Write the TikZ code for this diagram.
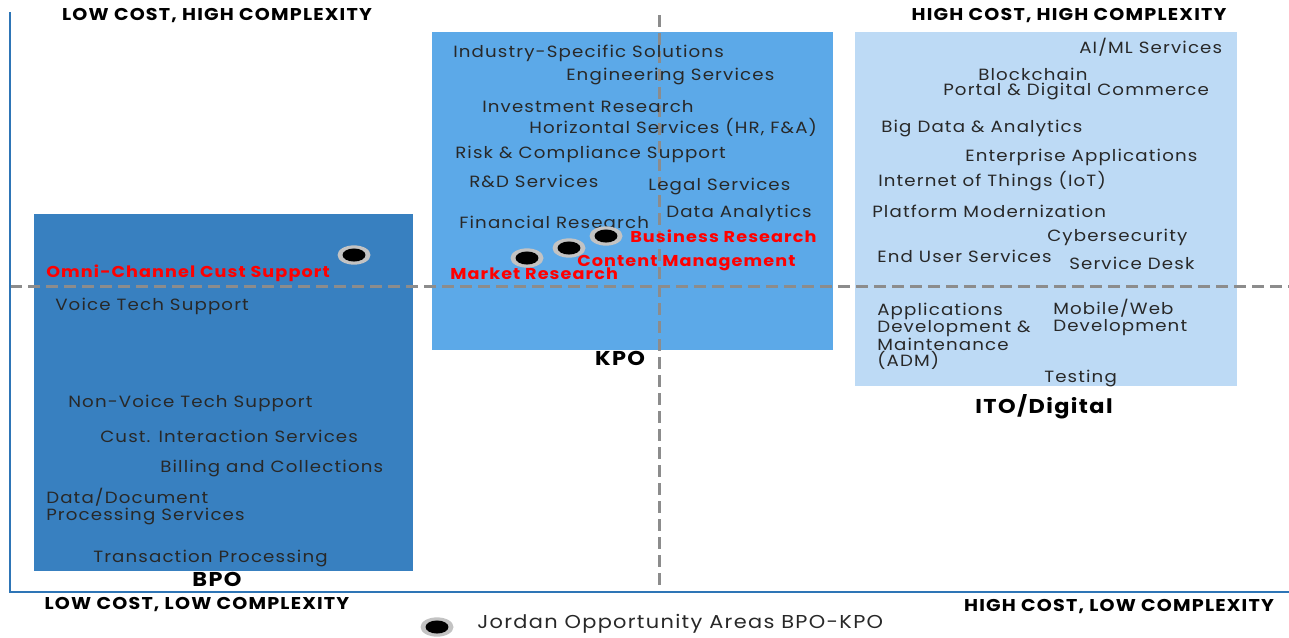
\documentclass[tikz,border=0pt]{standalone}
\usepackage{fontspec}
\usetikzlibrary{shapes.geometric}
\setmainfont{Poppins}[FakeStretch=1.12, LetterSpace=7]
\definecolor{axisblue}{RGB}{46,117,182}
\definecolor{bpoblue}{RGB}{56,128,192}
\definecolor{kpoblue}{RGB}{92,169,232}
\definecolor{itoblue}{RGB}{189,218,245}
\definecolor{gridgray}{RGB}{140,140,140}
\definecolor{itemgray}{RGB}{40,40,40}
\definecolor{ringgray}{RGB}{195,195,195}
\definecolor{hotred}{RGB}{255,0,0}
\tikzset{
  item/.style={anchor=west, inner sep=0pt, text=itemgray, align=left,
    yshift=-1pt, font=\fontsize{12.2}{12.4}\selectfont},
  hot/.style={anchor=west, inner sep=0pt, text=hotred, yshift=-1.5pt,
    font=\bfseries\fontsize{11.8}{13}\selectfont},
  corner/.style={inner sep=0pt, font=\bfseries\fontsize{12.8}{13}\selectfont},
  boxlabel/.style={inner sep=0pt, font=\bfseries\fontsize{15}{16}\selectfont},
  legendtext/.style={anchor=west, inner sep=0pt, text=itemgray,
    font=\fontsize{14}{15}\selectfont},
  grid/.style={gridgray, line width=2.25pt, dash pattern=on 9pt off 4.5pt},
  axis/.style={axisblue, line width=1.5pt},
  % grey ring with a black core
  dot/.style={ellipse, fill=ringgray, draw=none, inner sep=0pt,
    minimum width=24.75pt, minimum height=14.5pt,
    path picture={\fill[black] (path picture bounding box.center)
      ellipse (8.6pt and 4.9pt);}},
}
\begin{document}
\begin{tikzpicture}[x=0.75pt, y=-0.75pt]
\useasboundingbox (0,0) rectangle (1289,637);

% coloured regions
\fill[bpoblue] (34,214) rectangle (413,571);
\fill[kpoblue] (432,32) rectangle (833,350);
\fill[itoblue] (855,32) rectangle (1237,386);

% quadrant dividers
\coordinate (vtop) at (659,15);
\coordinate (vbot) at (659,592);
\coordinate (hleft) at (10,286);
\coordinate (hright) at (1289,286);
\draw[grid] (vtop) -- (vbot);
\draw[grid] (hleft) -- (hright);

% axes
\coordinate (axtop) at (10,12);
\coordinate (origin) at (10,592);
\coordinate (axright) at (1289,592);
\draw[axis] (axtop) -- (origin) -- (axright);

% corner captions
\node[corner] (lchc) at (217,16) {LOW COST, HIGH COMPLEXITY};
\node[corner] (hchc) at (1069,16) {HIGH COST, HIGH COMPLEXITY};
\node[corner] (lclc) at (197,605) {LOW COST, LOW COMPLEXITY};
\node[corner] (hclc) at (1119,607) {HIGH COST, LOW COMPLEXITY};

% region captions
\node[boxlabel] (bpo) at (217,579) {BPO};
\node[boxlabel] (kpo) at (620,358) {KPO};
\node[boxlabel] (ito) at (1044,407) {ITO/Digital};

% KPO services
\node[item] (k1) at (453,52) {Industry-Specific Solutions};
\node[item] (k2) at (566,75) {Engineering Services};
\node[item] (k3) at (482,105) {Investment Research};
\node[item] (k4) at (529,126) {Horizontal Services (HR, F\&A)};
\node[item] (k5) at (455,153) {Risk \& Compliance Support};
\node[item] (k6) at (469,180) {R\&D Services};
\node[item] (k7) at (648,185) {Legal Services};
\node[item] (k8) at (666,212) {Data Analytics};
\node[item] (k9) at (459,221) {Financial Research};

% ITO / Digital services
\node[item] (i1) at (1079,46) {AI/ML Services};
\node[item] (i2) at (978,73) {Blockchain};
\node[item] (i3) at (943,90) {Portal \& Digital Commerce};
\node[item] (i4) at (881,127) {Big Data \& Analytics};
\node[item] (i5) at (965,156) {Enterprise Applications};
\node[item] (i6) at (878,180) {Internet of Things (IoT)};
\node[item] (i7) at (872,210) {Platform Modernization};
\node[item] (i8) at (1047,236) {Cybersecurity};
\node[item] (i9) at (877,255) {End User Services};
\node[item] (i10) at (1069,262) {Service Desk};
\node[item, anchor=north west] (i11) at (877,302) {Applications\\Development \&\\Maintenance\\(ADM)};
\node[item, anchor=north west] (i12) at (1053,298) {Mobile/Web\\Development};
\node[item] (i13) at (1044,377) {Testing};

% BPO services
\node[item] (b1) at (55,305) {Voice Tech Support};
\node[item] (b2) at (68,402) {Non-Voice Tech Support};
\node[item] (b3) at (100,435) {Cust. Interaction Services};
\node[item] (b4) at (160,467) {Billing and Collections};
\node[item, anchor=north west] (b5) at (46,487) {Data/Document\\Processing Services};
\node[item] (b6) at (93,557) {Transaction Processing};

% opportunity areas
\node[dot] (d1) at (354,255) {};
\node[dot] (d2) at (527,258) {};
\node[dot] (d3) at (569,248) {};
\node[dot] (d4) at (606,236) {};
\node[hot] (h1) at (46,271) {Omni-Channel Cust Support};
\node[hot] (h2) at (450,272) {Market Research};
\node[hot] (h3) at (577,261) {Content Management};
\node[hot] (h4) at (630,234) {Business Research};

% legend
\node[dot] (ld) at (437,627) {};
\node[legendtext] (lt) at (477,624) {Jordan Opportunity Areas BPO-KPO};
\end{tikzpicture}
\end{document}
